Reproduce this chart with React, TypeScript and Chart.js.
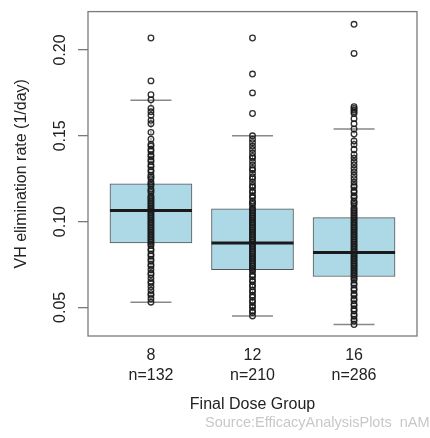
import React, { useEffect, useRef } from "react";
import { Chart, registerables } from "chart.js";

Chart.register(...registerables);

// ---- data ----
const groups = ["8", "12", "16"];
const counts = [132, 210, 286];
const whiskerLow = [0.053, 0.045, 0.040];
const q1 = [0.0875, 0.072, 0.068];
const median = [0.1065, 0.0875, 0.082];
const q3 = [0.122, 0.1075, 0.1023];
const whiskerHigh = [0.1707, 0.15, 0.154];
const yTicks = [0.05, 0.1, 0.15, 0.2];

const points8 = [
  0.207, 0.182, 0.174, 0.171, 0.166, 0.164, 0.162, 0.159, 0.157, 0.152, 0.148, 0.145, 0.144,
  0.142, 0.141, 0.139, 0.138, 0.136, 0.135, 0.133, 0.132, 0.130, 0.129, 0.127, 0.126, 0.125,
  0.123, 0.122, 0.121, 0.119, 0.118, 0.117, 0.115, 0.114, 0.113, 0.112, 0.111, 0.110, 0.109,
  0.108, 0.107, 0.106, 0.105, 0.104, 0.103, 0.102, 0.101, 0.100, 0.099, 0.098, 0.097, 0.096,
  0.095, 0.094, 0.093, 0.092, 0.091, 0.090, 0.089, 0.088, 0.087, 0.086, 0.084, 0.083, 0.081,
  0.080, 0.078, 0.077, 0.075, 0.074, 0.072, 0.070, 0.069, 0.067, 0.065, 0.064, 0.062, 0.060,
  0.058, 0.057, 0.055, 0.053,
];
const points12 = [
  0.207, 0.186, 0.175, 0.163, 0.150, 0.148, 0.146, 0.144, 0.142, 0.140, 0.138, 0.137, 0.135,
  0.133, 0.131, 0.130, 0.128, 0.126, 0.125, 0.123, 0.121, 0.120, 0.118, 0.117, 0.115, 0.114,
  0.112, 0.111, 0.110, 0.108, 0.107, 0.106, 0.105, 0.104, 0.103, 0.102, 0.101, 0.100, 0.099,
  0.098, 0.097, 0.096, 0.095, 0.094, 0.093, 0.092, 0.091, 0.090, 0.089, 0.088, 0.087, 0.086,
  0.085, 0.084, 0.083, 0.082, 0.081, 0.080, 0.079, 0.078, 0.077, 0.076, 0.075, 0.074, 0.073,
  0.072, 0.071, 0.069, 0.068, 0.066, 0.065, 0.063, 0.062, 0.060, 0.059, 0.057, 0.056, 0.054,
  0.053, 0.051, 0.050, 0.048, 0.047, 0.045,
];
const points16 = [
  0.215, 0.198, 0.167, 0.166, 0.165, 0.164, 0.163, 0.160, 0.157, 0.154, 0.151, 0.147, 0.145,
  0.142, 0.139, 0.137, 0.135, 0.133, 0.131, 0.129, 0.127, 0.125, 0.123, 0.121, 0.120, 0.118,
  0.117, 0.115, 0.114, 0.112, 0.111, 0.110, 0.108, 0.107, 0.106, 0.105, 0.104, 0.103, 0.102,
  0.101, 0.100, 0.099, 0.098, 0.097, 0.096, 0.095, 0.094, 0.093, 0.092, 0.091, 0.090, 0.089,
  0.088, 0.087, 0.086, 0.085, 0.084, 0.083, 0.082, 0.081, 0.080, 0.079, 0.078, 0.077, 0.076,
  0.075, 0.074, 0.073, 0.072, 0.071, 0.070, 0.069, 0.068, 0.067, 0.066, 0.064, 0.063, 0.061,
  0.060, 0.058, 0.057, 0.055, 0.054, 0.052, 0.051, 0.049, 0.048, 0.046, 0.045, 0.043, 0.042,
  0.040,
];
const groupPoints = [points8, points12, points16];

const xTitle = "Final Dose Group";
const yTitle = "VH elimination rate (1/day)";
const sourceText = "Source:EfficacyAnalysisPlots  nAM";

const FONT = '"Liberation Sans", Arial, Helvetica, sans-serif';

const boxExtras = {
  id: "boxExtras",
  beforeDatasetsDraw(chart: any) {
    const { ctx, chartArea } = chart;
    ctx.save();
    ctx.strokeStyle = "#7a7a7a";
    ctx.lineWidth = 1.3;
    ctx.strokeRect(chartArea.left, chartArea.top, chartArea.right - chartArea.left, chartArea.bottom - chartArea.top);
    ctx.restore();
  },
  afterDatasetDraw(chart: any, args: any) {
    if (args.index !== 1) return;
    const { ctx } = chart;
    const xs = chart.scales.x;
    const ys = chart.scales.y;
    const meta = chart.getDatasetMeta(1);
    ctx.save();
    groups.forEach((_, i) => {
      const cx = xs.getPixelForValue(i + 1);
      const w = meta.data[i] ? meta.data[i].width : 80;
      // whiskers (dashed)
      ctx.strokeStyle = "#777";
      ctx.lineWidth = 1;
      ctx.setLineDash([4, 3]);
      ctx.beginPath();
      ctx.moveTo(cx, ys.getPixelForValue(q3[i]));
      ctx.lineTo(cx, ys.getPixelForValue(whiskerHigh[i]));
      ctx.moveTo(cx, ys.getPixelForValue(q1[i]));
      ctx.lineTo(cx, ys.getPixelForValue(whiskerLow[i]));
      ctx.stroke();
      ctx.setLineDash([]);
      // caps
      ctx.strokeStyle = "#888";
      ctx.lineWidth = 1.5;
      ctx.beginPath();
      const hy = ys.getPixelForValue(whiskerHigh[i]);
      const ly = ys.getPixelForValue(whiskerLow[i]);
      ctx.moveTo(cx - w / 4, hy);
      ctx.lineTo(cx + w / 4, hy);
      ctx.moveTo(cx - w / 4, ly);
      ctx.lineTo(cx + w / 4, ly);
      ctx.stroke();
      // median
      ctx.strokeStyle = "#1a1a1a";
      ctx.lineWidth = 3;
      ctx.beginPath();
      const my = ys.getPixelForValue(median[i]);
      ctx.moveTo(cx - w / 2, my);
      ctx.lineTo(cx + w / 2, my);
      ctx.stroke();
    });
    ctx.restore();
  },
  afterDraw(chart: any) {
    const { ctx } = chart;
    ctx.save();
    ctx.font = `14.5px ${FONT}`;
    ctx.fillStyle = "#c8c8c8";
    ctx.textBaseline = "middle";
    ctx.textAlign = "left";
    ctx.fillText(sourceText, 205, 423);
    ctx.restore();
  },
};

export default function App() {
  const ref = useRef<HTMLCanvasElement | null>(null);
  useEffect(() => {
    if (!ref.current) return;
    Chart.defaults.font.family = FONT;
    Chart.defaults.color = "#222";
    const pointData: any[] = [];
    groupPoints.forEach((arr, i) => arr.forEach((v) => pointData.push({ x: i + 1, y: v })));
    const boxData = groups.map((_, i) => ({ x: i + 1, y: [q1[i], q3[i]] }));
    const chart = new Chart(ref.current, {
      type: "bar",
      data: {
        datasets: [
          {
            type: "scatter",
            data: pointData,
            order: 0,
            pointStyle: "circle",
            pointRadius: 2.8,
            pointBorderWidth: 1.3,
            pointBorderColor: "rgba(25,25,25,0.9)",
            pointBackgroundColor: "rgba(0,0,0,0)",
          } as any,
          {
            type: "bar",
            data: boxData as any,
            order: 1,
            backgroundColor: "#ADD8E6",
            borderColor: "#555",
            borderWidth: 1,
            borderSkipped: false,
            barThickness: 82,
            grouped: false,
          } as any,
        ],
      },
      options: {
        animation: false,
        responsive: false,
        maintainAspectRatio: false,
        layout: { padding: { left: 0, right: 13, top: 7, bottom: 24 } },
        plugins: { legend: { display: false }, tooltip: { enabled: false } },
        scales: {
          x: {
            type: "linear",
            min: 0.38,
            max: 3.62,
            offset: false,
            afterBuildTicks: (s: any) => {
              s.ticks = groups.map((_, i) => ({ value: i + 1 }));
            },
            afterFit: (s: any) => {
              s.height = 78;
            },
            grid: { display: false, drawTicks: false, offset: false },
            border: { display: false },
            ticks: {
              autoSkip: false,
              maxRotation: 0,
              minRotation: 0,
              padding: 10,
              color: "#222",
              font: { size: 16, lineHeight: 1.25 },
              callback: (v: any) => {
                const i = Math.round(Number(v)) - 1;
                return [groups[i], "n=" + counts[i]];
              },
            },
            title: {
              display: true,
              text: xTitle,
              color: "#222",
              font: { size: 16 },
              padding: { top: 0, bottom: 0 },
            },
          },
          y: {
            type: "linear",
            min: 0.0333,
            max: 0.2224,
            afterBuildTicks: (s: any) => {
              s.ticks = yTicks.map((v) => ({ value: v }));
            },
            afterFit: (s: any) => {
              s.width = 88;
            },
            grid: { drawOnChartArea: false, drawTicks: true, tickLength: 10, color: "#7a7a7a", lineWidth: 1.3 },
            border: { display: false },
            ticks: {
              minRotation: 90,
              maxRotation: 90,
              crossAlign: "center",
              padding: 2,
              color: "#222",
              font: { size: 16 },
              callback: (v: any) => Number(v).toFixed(2),
            },
            title: {
              display: true,
              text: yTitle,
              color: "#222",
              font: { size: 16 },
              padding: { top: 12, bottom: 0 },
            },
          },
        },
      },
      plugins: [boxExtras],
    });
    return () => chart.destroy();
  }, []);
  return (
    <div style={{ position: "absolute", left: 0, top: 0, width: 430, height: 438, background: "#fff" }}>
      <canvas ref={ref} width={430} height={438} style={{ display: "block", width: 430, height: 438 }} />
    </div>
  );
}
